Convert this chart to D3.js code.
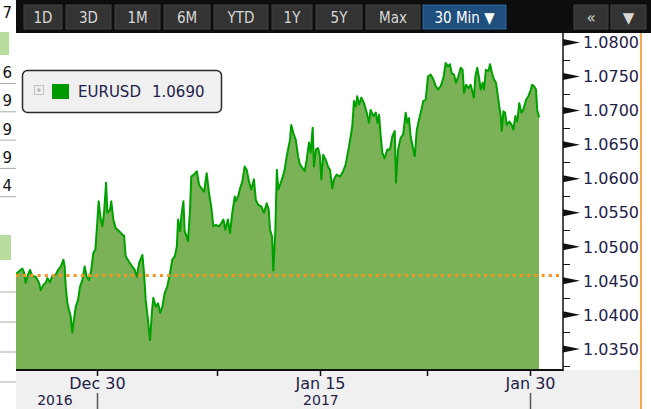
<!DOCTYPE html>
<html>
<head>
<meta charset="utf-8">
<script src="https://cdnjs.cloudflare.com/ajax/libs/d3/7.8.5/d3.min.js"></script>
<style>
  body { margin: 0; background: #fff; overflow: hidden; }
  #dataviz { width: 651px; height: 409px; }
  text { font-family: "DejaVu Sans", Verdana, sans-serif; }
</style>
</head>
<body>
<div id="dataviz"></div>
<script>
// trading-day offset from Dec 30 (weekends removed) and EURUSD 30 min closes
var times = [-3.93,-3.78,-3.62,-3.54,-3.46,-3.35,-3.25,-3.14,-2.97,-2.81,
  -2.73,-2.60,-2.49,-2.41,-2.28,-2.17,-2.00,-1.89,-1.76,-1.63,
  -1.57,-1.52,-1.44,-1.36,-1.28,-1.20,-1.12,-1.03,-0.92,-0.82,
  -0.71,-0.60,-0.50,-0.39,-0.28,-0.18,-0.08,0.01,0.08,0.18,
  0.26,0.34,0.44,0.50,0.63,0.69,0.79,0.91,1.07,1.23,
  1.31,1.39,1.55,1.71,1.83,1.93,2.04,2.20,2.28,2.36,
  2.47,2.57,2.67,2.73,2.85,2.96,3.06,3.17,3.28,3.41,
  3.54,3.65,3.77,3.87,3.93,4.03,4.09,4.19,4.25,4.35,
  4.41,4.51,4.57,4.70,4.84,4.95,5.06,5.19,5.32,5.43,
  5.54,5.64,5.76,5.92,6.03,6.13,6.22,6.35,6.45,6.56,
  6.68,6.73,6.84,6.94,7.05,7.16,7.26,7.37,7.48,7.61,
  7.70,7.81,7.97,8.10,8.23,8.33,8.39,8.49,8.55,8.65,
  8.72,8.79,8.91,9.01,9.10,9.20,9.28,9.36,9.42,9.52,
  9.64,9.75,9.84,9.96,10.07,10.17,10.28,10.36,10.46,10.52,
  10.62,10.72,10.81,10.88,10.97,11.09,11.20,11.30,11.41,11.49,
  11.62,11.78,11.94,12.06,12.22,12.30,12.38,12.46,12.55,12.62,
  12.71,12.82,12.95,13.08,13.19,13.27,13.40,13.52,13.60,13.68,
  13.76,13.84,13.95,14.08,14.21,14.32,14.44,14.50,14.60,14.73,
  14.85,14.97,15.05,15.13,15.21,15.31,15.41,15.51,15.62,15.73,
  15.82,15.94,16.05,16.18,16.31,16.43,16.54,16.67,16.80,16.91,
  17.02,17.12,17.20,17.31,17.41,17.52,17.64,17.73,17.80,17.90,
  18.01,18.12,18.22,18.28,18.35,18.44,18.54,18.61,18.70,18.77,
  18.86,18.98,19.06,19.16,19.25,19.35,19.42,19.51,19.58,19.63,
  19.71,19.79,19.87,20.00,20.11,20.19,20.29,20.38,20.48,20.58,
  20.67,20.81,20.92,21.04,21.10,21.19,21.29,21.35,21.44];

var rates = [1.0460,1.0464,1.0468,1.0462,1.0447,1.0459,1.0466,1.0457,1.0456,1.0447,
  1.0436,1.0444,1.0447,1.0454,1.0448,1.0457,1.0459,1.0466,1.0471,1.0481,
  1.0471,1.0442,1.0418,1.0407,1.0398,1.0374,1.0393,1.0412,1.0422,1.0442,
  1.0451,1.0471,1.0456,1.0451,1.0466,1.0491,1.0496,1.0535,1.0567,1.0540,
  1.0530,1.0550,1.0594,1.0550,1.0554,1.0567,1.0540,1.0527,1.0523,1.0518,
  1.0516,1.0486,1.0478,1.0471,1.0466,1.0456,1.0476,1.0488,1.0461,1.0422,
  1.0393,1.0363,1.0407,1.0425,1.0412,1.0417,1.0403,1.0412,1.0432,1.0442,
  1.0461,1.0481,1.0486,1.0500,1.0540,1.0523,1.0545,1.0567,1.0523,1.0515,
  1.0508,1.0554,1.0603,1.0606,1.0611,1.0591,1.0586,1.0581,1.0608,1.0579,
  1.0559,1.0530,1.0532,1.0530,1.0535,1.0540,1.0525,1.0540,1.0520,1.0550,
  1.0574,1.0567,1.0574,1.0586,1.0596,1.0618,1.0613,1.0596,1.0584,1.0599,
  1.0569,1.0562,1.0559,1.0550,1.0564,1.0554,1.0525,1.0515,1.0465,1.0525,
  1.0613,1.0584,1.0594,1.0603,1.0613,1.0633,1.0645,1.0657,1.0679,1.0667,
  1.0657,1.0633,1.0621,1.0616,1.0611,1.0628,1.0653,1.0638,1.0675,1.0618,
  1.0643,1.0645,1.0633,1.0599,1.0635,1.0628,1.0618,1.0613,1.0586,1.0599,
  1.0606,1.0603,1.0611,1.0621,1.0647,1.0662,1.0677,1.0714,1.0706,1.0721,
  1.0709,1.0719,1.0711,1.0697,1.0682,1.0701,1.0692,1.0697,1.0682,1.0694,
  1.0662,1.0638,1.0630,1.0643,1.0643,1.0662,1.0670,1.0594,1.0643,1.0660,
  1.0665,1.0697,1.0682,1.0689,1.0662,1.0647,1.0633,1.0672,1.0687,1.0701,
  1.0714,1.0716,1.0750,1.0753,1.0746,1.0736,1.0731,1.0736,1.0748,1.0770,
  1.0765,1.0768,1.0755,1.0753,1.0741,1.0750,1.0763,1.0760,1.0726,1.0738,
  1.0733,1.0738,1.0726,1.0719,1.0750,1.0763,1.0746,1.0731,1.0741,1.0731,
  1.0760,1.0758,1.0768,1.0755,1.0746,1.0741,1.0726,1.0706,1.0692,1.0670,
  1.0699,1.0697,1.0679,1.0684,1.0679,1.0672,1.0692,1.0684,1.0711,1.0697,
  1.0701,1.0716,1.0721,1.0731,1.0738,1.0736,1.0731,1.0701,1.0690];

var seriesName = "EURUSD";
var lastRate = 1.0690;
var prevClose = 1.0459;

var yTickValues = [1.035, 1.040, 1.045, 1.050, 1.055, 1.060, 1.065, 1.070, 1.075, 1.080];
var yMinorValues = [1.0325, 1.0375, 1.0425, 1.0475, 1.0525, 1.0575, 1.0625, 1.0675, 1.0725, 1.0775];

var xTickTimes = [0, 5.82, 10.81, 16.0, 21.0];
var xTickLabels = ["Dec 30", "", "Jan 15", "", "Jan 30"];
var yearLabels = ["2016", "2017"];
var yearTimes = [-2.04, 10.86];
var yearBreaks = [0, 21.0];

var rangeButtons = ["1D", "3D", "1M", "6M", "YTD", "1Y", "5Y", "Max", "30 Min \u25BC"];
var sideDigits = ["7", "6", "9", "9", "9", "4"];

buildChart();

function buildChart(){
    d3.selectAll('svg').remove();

    var W = 651, H = 409;
    // plot box in page pixels
    var plot = {left: 16, right: 563, top: 33, bottom: 370};

    var svg = d3.select("#dataviz")
    .append("svg")
        .attr("width", W)
        .attr("height", H);

    var data = times.map(function(t, i){ return {t: t, v: rates[i]}; })
        .filter(function(d){ return d.v !== undefined; });

    // scales
    var x = d3.scaleLinear()
        .domain([-3.93, 22.6])
        .range([plot.left, plot.right]);

    var y = d3.scaleLinear()
        .domain([1.0319, 1.0814])
        .range([plot.bottom, plot.top]);

    // left strip (edge of a watchlist panel)
    var side = svg.append("g");
    side.append("rect").attr("x", 0).attr("y", 32).attr("width", 9).attr("height", 23).attr("fill", "#b9dc9f");
    side.append("rect").attr("x", 0).attr("y", 235).attr("width", 11).attr("height", 25).attr("fill", "#b9dc9f");
    sideDigits.forEach(function(s, i){
        var yy = i == 0 ? 18 : 78 + (i - 1) * 28.3;
        side.append("text")
            .attr("x", 12).attr("y", yy)
            .text(s)
            .style("font-size", "15px")
            .style("fill", "#111")
            .style("text-anchor", "end");
        if (i > 0) {
            side.append("line")
                .attr("x1", 0).attr("x2", 16)
                .attr("y1", yy + 5.5).attr("y2", yy + 5.5)
                .attr("stroke", "#aaa");
        }
    });
    [292, 322, 352, 382].forEach(function(yy){
        side.append("line").attr("x1", 0).attr("x2", 16).attr("y1", yy).attr("y2", yy).attr("stroke", "#aaa");
    });

    // toolbar
    svg.append("rect")
        .attr("x", 16).attr("y", 0)
        .attr("width", W - 16).attr("height", 33)
        .attr("fill", "#0d0d0d");

    var btnEdges = [[24,62],[66,111],[115,160],[164,210],[214,268],[272,312],[316,362],[366,420],[423,506]];
    rangeButtons.forEach(function(b, i){
        var e = btnEdges[i];
        var active = i == rangeButtons.length - 1;
        svg.append("rect")
            .attr("x", e[0]).attr("y", 5)
            .attr("width", e[1] - e[0]).attr("height", 24)
            .attr("fill", active ? "#1f4f7d" : "#333")
            .attr("stroke", active ? "#2e6aa3" : "#444");
        svg.append("text")
            .attr("x", (e[0] + e[1]) / 2).attr("y", 23)
            .text(b)
                .style("font-family", "'DejaVu Sans Condensed', 'DejaVu Sans', sans-serif")
                .style("font-size", "15px")
                .style("fill", active ? "#fff" : "#d8d8d8")
                .style("text-anchor", "middle");
    });
    [[574, 608, "\u00AB"], [611, 646, "\u25BC"]].forEach(function(b){
        svg.append("rect")
            .attr("x", b[0]).attr("y", 5)
            .attr("width", b[1] - b[0]).attr("height", 24)
            .attr("fill", "#333").attr("stroke", "#444");
        svg.append("text")
            .attr("x", (b[0] + b[1]) / 2).attr("y", 23)
            .text(b[2])
                .style("font-size", "15px")
                .style("fill", "#d8d8d8")
                .style("text-anchor", "middle");
    });

    // bottom axis panel
    svg.append("rect")
        .attr("x", plot.left).attr("y", plot.bottom)
        .attr("width", 641 - plot.left).attr("height", H - plot.bottom)
        .attr("fill", "#f0f0f0");

    // area + line, clipped to plot
    svg.append("clipPath").attr("id", "clip")
        .append("rect")
        .attr("x", plot.left).attr("y", plot.top)
        .attr("width", plot.right - plot.left).attr("height", plot.bottom - plot.top);

    var g = svg.append("g").attr("clip-path", "url(#clip)");

    g.append("path")
        .datum(data)
        .attr("fill", "#7bb157")
        .attr("d", d3.area()
            .x(function(d){ return x(d.t); })
            .y0(plot.bottom)
            .y1(function(d){ return y(d.v); }));

    g.append("path")
        .datum(data)
        .attr("fill", "none")
        .attr("stroke", "#00a000")
        .attr("stroke-width", 2)
        .attr("stroke-linejoin", "round")
        .attr("d", d3.line()
            .x(function(d){ return x(d.t); })
            .y(function(d){ return y(d.v); }));

    // previous close dotted line
    g.append("line")
        .attr("x1", plot.left).attr("x2", plot.right)
        .attr("y1", Math.round(y(prevClose)) + 0.5).attr("y2", Math.round(y(prevClose)) + 0.5)
        .attr("stroke", "#f7931e")
        .attr("stroke-width", 3)
        .attr("stroke-dasharray", "3,4.2");

    // y axis on the right
    var yAxis = svg.append("g");
    yAxis.append("line")
        .attr("x1", plot.right).attr("x2", plot.right)
        .attr("y1", plot.top).attr("y2", plot.bottom + 1)
        .attr("stroke", "#111").attr("stroke-width", 1.5);

    yMinorValues.forEach(function(v){
        var yy = Math.round(y(v)) + 0.5;
        yAxis.append("line")
            .attr("x1", plot.right).attr("x2", plot.right + 7)
            .attr("y1", yy).attr("y2", yy)
            .attr("stroke", "#111");
    });
    yTickValues.forEach(function(v){
        var yy = y(v);
        yAxis.append("path")
            .attr("d", "M" + plot.right + "," + (yy - 3.5) + "L" + (plot.right + 17) + "," + yy + "L" + plot.right + "," + (yy + 3.5) + "Z")
            .attr("fill", "#111");
        yAxis.append("text")
            .attr("x", plot.right + 20).attr("y", yy)
            .attr("dy", "0.36em")
            .text(v.toFixed(4))
                .style("font-size", "16px")
                .style("fill", "#1f2147");
    });

    // x axis
    svg.append("line")
        .attr("x1", plot.left).attr("x2", plot.right)
        .attr("y1", plot.bottom).attr("y2", plot.bottom)
        .attr("stroke", "#111").attr("stroke-width", 2);

    xTickTimes.forEach(function(t, i){
        var xx = Math.round(x(t)) + 0.5;
        svg.append("line")
            .attr("x1", xx).attr("x2", xx)
            .attr("y1", plot.bottom).attr("y2", plot.bottom + 6)
            .attr("stroke", "#111").attr("stroke-width", 1.5);
        if (xTickLabels[i]) {
            svg.append("text")
                .attr("x", xx).attr("y", 389)
                .text(xTickLabels[i])
                    .style("font-size", "16px")
                    .style("fill", "#1f2147")
                    .style("text-anchor", "middle");
        }
    });

    yearBreaks.forEach(function(t){
        var xx = Math.round(x(t)) + 0.5;
        svg.append("line")
            .attr("x1", xx).attr("x2", xx)
            .attr("y1", 393).attr("y2", H)
            .attr("stroke", "#555").attr("stroke-width", 1.5);
    });
    yearLabels.forEach(function(s, i){
        svg.append("text")
            .attr("x", x(yearTimes[i])).attr("y", 405)
            .text(s)
                .style("font-size", "14px")
                .style("fill", "#1f2147")
                .style("text-anchor", "middle");
    });

    // right orange border
    svg.append("line")
        .attr("x1", 641).attr("x2", 641)
        .attr("y1", 33).attr("y2", H)
        .attr("stroke", "#f0901a").attr("stroke-width", 1.5);

    // legend
    var legend = svg.append("g");
    legend.append("rect")
        .attr("x", 22.5).attr("y", 70.5)
        .attr("width", 199).attr("height", 42)
        .attr("rx", 5)
        .attr("fill", "#f0f0f0")
        .attr("stroke", "#2a2a2a").attr("stroke-width", 1.5);
    legend.append("rect")
        .attr("x", 34.5).attr("y", 85.5)
        .attr("width", 9).attr("height", 9)
        .attr("fill", "#eee").attr("stroke", "#c4c4c4");
    legend.append("path")
        .attr("d", "M37,90H41M39,88V92")
        .attr("stroke", "#aaa");
    legend.append("rect")
        .attr("x", 52).attr("y", 84)
        .attr("width", 17).attr("height", 15)
        .attr("fill", "#009a00");
    legend.append("text")
        .attr("x", 78).attr("y", 97)
        .text(seriesName)
            .style("font-size", "15px")
            .style("fill", "#1f2147");
    legend.append("text")
        .attr("x", 152).attr("y", 97)
        .text(lastRate.toFixed(4))
            .style("font-size", "15px")
            .style("fill", "#1f2147");
}
</script>
</body>
</html>
